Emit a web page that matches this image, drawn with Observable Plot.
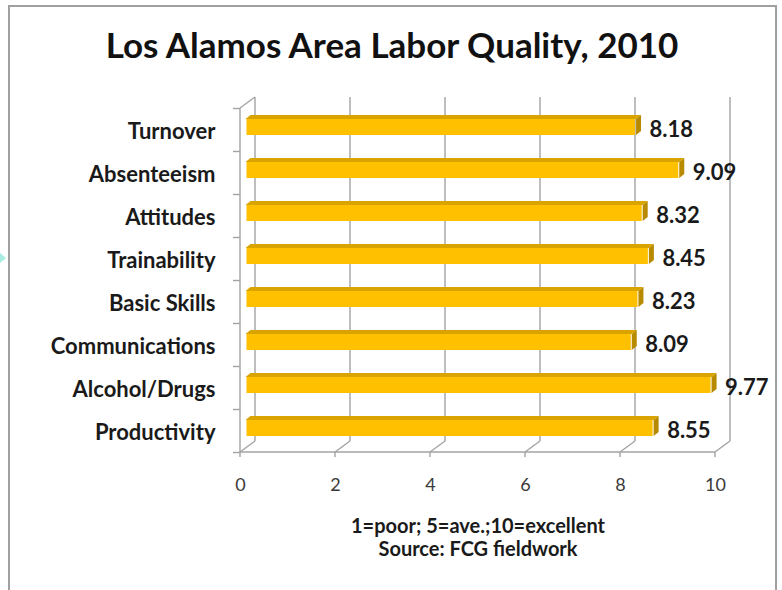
<!DOCTYPE html>
<html><head><meta charset="utf-8">
<script src="https://cdn.jsdelivr.net/npm/d3@7"></script>
<script src="https://cdn.jsdelivr.net/npm/@observablehq/plot@0.6"></script>
<style>
body{margin:0;background:#fff;font-family:Lato,sans-serif;}
#wrap{position:relative;width:782px;height:590px;overflow:hidden;background:#fff;}
#frame{position:absolute;left:8px;top:5px;width:769px;height:600px;border:2px solid #a0a0a0;box-sizing:border-box;}
#arrow{position:absolute;left:0;top:253px;width:0;height:0;border-top:5px solid transparent;border-bottom:5px solid transparent;border-left:6px solid #a8ede2;}
#title{position:absolute;left:0;width:784px;top:21px;text-align:center;font-weight:700;font-size:35px;color:#111;line-height:46px;}
#plot{position:absolute;left:0;top:80px;}
#cap{position:absolute;left:0;width:956px;top:514px;text-align:center;font-weight:700;font-size:20px;line-height:23px;color:#1a1a1a;}
</style></head>
<body>
<div id="wrap">
<div id="frame"></div>
<div id="arrow"></div>
<div id="title">Los Alamos Area Labor Quality, 2010</div>
<div id="plot"></div>
<div id="cap">1=poor; 5=ave.;10=excellent<br>Source: FCG fieldwork</div>
</div>
<script>
const categories = ["Turnover","Absenteeism","Attitudes","Trainability","Basic Skills","Communications","Alcohol/Drugs","Productivity"];
const values = [8.18, 9.09, 8.32, 8.45, 8.23, 8.09, 9.77, 8.55];
const xTicks = [0, 2, 4, 6, 8, 10];

const data = categories.map((c, i) => ({category: c, value: values[i]}));

const HX = 7.5, HY = 5.5;      // half depth of the 3D box
const BX = 5, BY = 4;          // bar extrusion
const INSET_TOP = 16, INSET_BOTTOM = 11;
const GRID = "#a3a3a3";

function box3d(index, scales, values, dims) {
  const t = dims.marginTop, bottom = dims.height - dims.marginBottom;
  const g = d3.create("svg:g").attr("fill", "none").attr("stroke", GRID).attr("stroke-width", 1.4);
  const line = (x1, y1, x2, y2) => g.append("line").attr("x1", x1).attr("y1", y1).attr("x2", x2).attr("y2", y2);
  const x0 = scales.x(0), xN = scales.x(xTicks[xTicks.length - 1]);
  for (const v of xTicks) {
    const X = scales.x(v);
    line(X + HX, t - HY, X + HX, bottom - HY);
    line(X - HX, bottom + HY, X + HX, bottom - HY);
    line(X - HX, bottom + HY, X - HX, bottom + HY + 5);
  }
  line(x0 - HX, bottom + HY, xN - HX, bottom + HY);
  line(x0 - HX, t + HY, x0 - HX, bottom + HY);
  line(x0 - HX, t + HY, x0 + HX, t - HY);
  const bw = (bottom - t) / categories.length;
  for (let i = 0; i <= categories.length; i++) {
    const y = (i < categories.length ? scales.y(categories[i]) : scales.y(categories[i - 1]) + bw) + HY;
    line(x0 - HX - 7, y, x0 - HX, y);
  }
  return g.node();
}

function barFaces(index, scales, values, dims) {
  const t = dims.marginTop, bottom = dims.height - dims.marginBottom;
  const bw = (bottom - t) / categories.length;
  const g = d3.create("svg:g");
  for (const d of data) {
    const xa = scales.x(0) - 2, xb = scales.x(d.value);
    const yt = scales.y(d.category) + INSET_TOP, yb = scales.y(d.category) + bw - INSET_BOTTOM;
    g.append("polygon").attr("fill", "#D9A300")
      .attr("points", [[xa, yt], [xa + BX, yt - BY], [xb + BX, yt - BY], [xb, yt]].join(" "));
    g.append("polygon").attr("fill", "#B88A00")
      .attr("points", [[xb, yt], [xb + BX, yt - BY], [xb + BX, yb - BY], [xb, yb]].join(" "));
  }
  return g.node();
}

const chart = Plot.plot({
  width: 782,
  height: 420,
  marginTop: 22.5,
  marginBottom: 53.5,
  marginLeft: 247.5,
  marginRight: 59.5,
  style: {fontFamily: "Lato, sans-serif", background: "transparent", overflow: "visible"},
  x: {domain: [0, 10], axis: null},
  y: {domain: categories, axis: null, padding: 0},
  marks: [
    box3d,
    barFaces,
    Plot.barX(data, {x1: 0, x2: "value", y: "category", fill: "#FFC000", insetTop: INSET_TOP, insetBottom: INSET_BOTTOM, dx: -1}),
    Plot.text(data, {x: "value", y: "category", text: d => d.value.toFixed(2), textAnchor: "start", dx: 13, dy: 5, fontSize: 22, fontWeight: 700, fill: "#1a1a1a"}),
    Plot.text(categories, {y: d => d, text: d => d, frameAnchor: "left", textAnchor: "end", dx: -32.5, dy: 6.5, fontSize: 22, fontWeight: 700, fill: "#1a1a1a"}),
    Plot.text(xTicks, {x: d => d, text: d => String(d), frameAnchor: "bottom", dy: 43.5, dx: -7.5, fontSize: 18, fill: "#3a3a3a"})
  ]
});
document.getElementById("plot").appendChild(chart);
</script>
</body></html>
